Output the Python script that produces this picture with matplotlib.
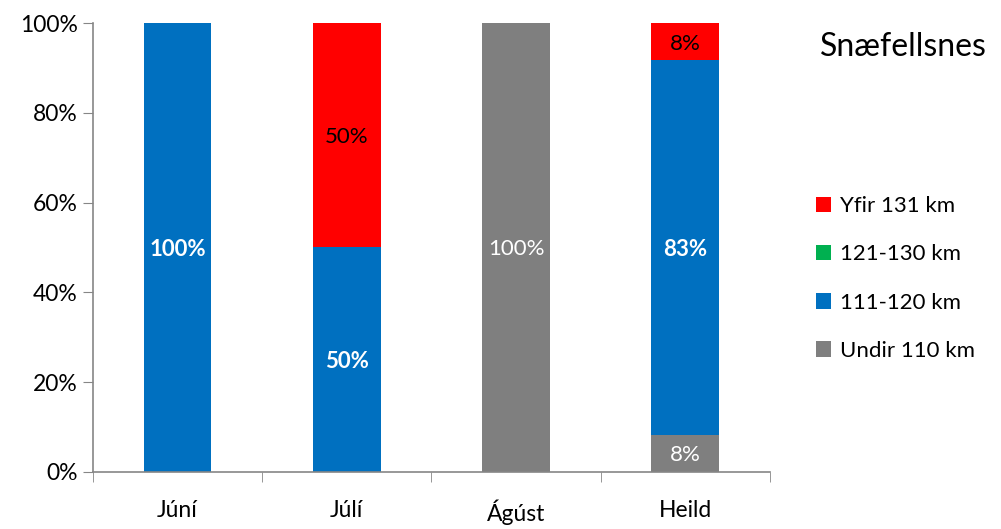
import matplotlib.pyplot as plt
import numpy as np

plt.rcParams['font.family'] = ['Lato', 'DejaVu Sans']

# ── data ──────────────────────────────────────────────────────────────────────
categories = ["Júní", "Júlí", "Ágúst", "Heild"]
undir_110 = [0.0, 0.0, 100.0, 8.33]
km_111_120 = [100.0, 50.0, 0.0, 83.33]
km_121_130 = [0.0, 0.0, 0.0, 0.0]
yfir_131 = [0.0, 50.0, 0.0, 8.33]

series = [
    ("Undir 110 km", undir_110, "#7F7F7F", "white", "normal"),
    ("111-120 km", km_111_120, "#0070C0", "white", "bold"),
    ("121-130 km", km_121_130, "#00B050", "black", "normal"),
    ("Yfir 131 km", yfir_131, "#FF0000", "black", "normal"),
]

AXIS_COLOR = "#868686"

fig = plt.figure(figsize=(10.01, 5.29), dpi=100)
ax = fig.add_axes([0.0929, 0.1078, 0.6763, 0.8487])

x = np.arange(len(categories))
bottom = np.zeros(len(categories))
handles = []
for label, vals, color, txt_color, weight in series:
    vals = np.array(vals)
    bars = ax.bar(x, vals, bottom=bottom, width=0.40, color=color, label=label)
    handles.append(bars)
    for xi, v, b in zip(x, vals, bottom):
        if v > 0:
            ax.text(xi, b + v / 2, f"{v:.0f}%", ha="center", va="center_baseline",
                    color=txt_color, fontsize=16, fontweight=weight)
    bottom += vals

ax.set_xlim(-0.5, len(categories) - 0.5)
ax.set_ylim(0, 100)
ax.set_yticks(np.arange(0, 101, 20))
ax.set_yticklabels([f"{v}%" for v in range(0, 101, 20)])
ax.set_xticks(x)
ax.set_xticklabels(categories)
ax.set_xticks(np.arange(-0.5, len(categories)), minor=True)
ax.tick_params(axis="x", which="major", length=0, labelsize=16.5, pad=20)
ax.tick_params(axis="x", which="minor", length=7, color=AXIS_COLOR, direction="out")
ax.tick_params(axis="y", length=7, color=AXIS_COLOR, labelsize=16.5, pad=4)

for side in ("top", "right"):
    ax.spines[side].set_visible(False)
for side in ("left", "bottom"):
    ax.spines[side].set_color(AXIS_COLOR)
    ax.spines[side].set_linewidth(1.2)

fig.text(0.819, 0.911, "Snæfellsnes", fontsize=23, ha="left", va="center")

leg = fig.legend(handles=handles[::-1], loc="upper left",
                 bbox_to_anchor=(0.795, 0.667), frameon=False, fontsize=16,
                 handlelength=0.7, handleheight=0.7, handletextpad=0.4,
                 labelspacing=1.27)

fig.savefig("out.png", dpi=100)
